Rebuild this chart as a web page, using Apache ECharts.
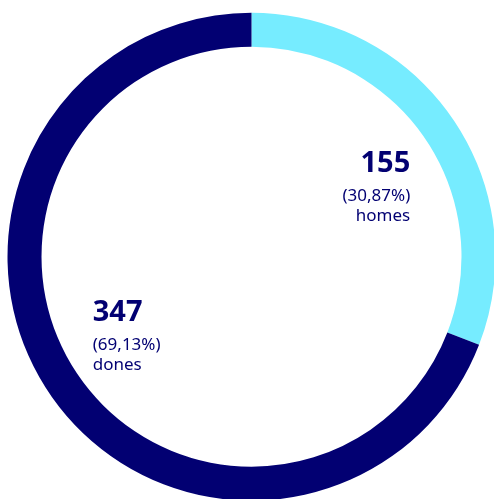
<!DOCTYPE html>
<html>
<head>
<meta charset="utf-8">
<script src="https://cdn.jsdelivr.net/npm/echarts@6/dist/echarts.min.js"></script>
<style>
  html, body { margin: 0; padding: 0; background: #fff; }
  #chart { width: 494px; height: 499px; }
</style>
</head>
<body>
<div id="chart"></div>
<script>
const categories = ['homes', 'dones']
const values = [155, 347]
const percentLabels = ['30,87%', '69,13%']

const NAVY = '#020072'
const colors = ['#76ecff', NAVY]

const chart = echarts.init(document.getElementById('chart'))

chart.setOption({
  animation: false,
  series: [
    {
      type: 'pie',
      center: [251.5, 256.7],
      radius: [210, 244],
      startAngle: 90,
      clockwise: true,
      avoidLabelOverlap: false,
      silent: true,
      emphasis: { disabled: true },
      data: categories.map((name, i) => ({
        name,
        value: values[i],
        itemStyle: { color: colors[i] },
      })),
      labelLine: { show: false },
      label: {
        show: true,
        position: 'inside',
        color: NAVY,
        fontFamily: 'Noto Sans',
        formatter: (p) => `{v|${p.value}}\n{p|(${percentLabels[p.dataIndex]})}\n{n|${p.name}}`,
        rich: {
          v: { fontSize: 29, fontWeight: 'bold', lineHeight: 44, color: NAVY, fontFamily: 'Noto Sans' },
          p: { fontSize: 17, lineHeight: 20, color: NAVY, fontFamily: 'Noto Sans' },
          n: { fontSize: 17, lineHeight: 20, color: NAVY, fontFamily: 'Noto Sans' },
        },
      },
      labelLayout: (p) => ({
        align: p.dataIndex === 0 ? 'right' : 'left',
        verticalAlign: 'middle',
        dx: p.dataIndex === 0 ? -31 : 31,
        dy: p.dataIndex === 0 ? 57 : -54,
      }),
    },
  ],
})
</script>
</body>
</html>
